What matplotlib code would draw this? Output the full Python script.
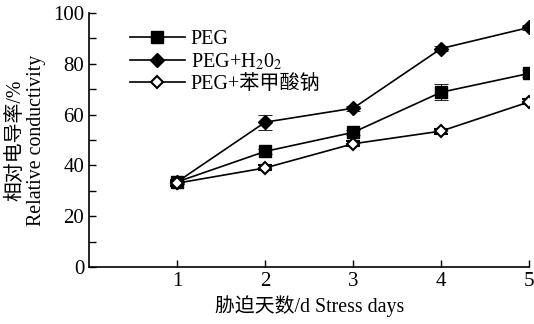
import matplotlib.pyplot as plt
from matplotlib.ticker import MultipleLocator

plt.rcParams['font.family'] = ['Liberation Serif', 'Noto Sans CJK SC']
plt.rcParams['mathtext.fontset'] = 'stix'

days = [1, 2, 3, 4, 5]
peg = [33.5, 45.5, 53.0, 68.8, 76.2]
peg_err = [1.0, 1.0, 1.0, 3.2, 1.5]
peg_h2o2 = [33.5, 57.0, 62.5, 86.0, 94.3]
peg_h2o2_err = [1.0, 3.0, 1.0, 1.0, 1.0]
peg_benz = [33.0, 39.0, 48.5, 53.5, 65.0]
peg_benz_err = [1.0, 1.0, 1.0, 1.0, 1.0]

labels = ["PEG", r"PEG+H$_2$0$_2$", "PEG+苯甲酸钠"]

fig = plt.figure(figsize=(5.34, 3.24), dpi=100)
ax = fig.add_axes([0.167, 0.176, 0.824, 0.784])

ax.errorbar(days, peg, yerr=peg_err, color="black", marker="s", ms=8,
            lw=1.2, capsize=5, elinewidth=0.6, capthick=0.6, label=labels[0])
ax.errorbar(days, peg_h2o2, yerr=peg_h2o2_err, color="black", marker="D", ms=7,
            lw=1.2, capsize=5, elinewidth=0.6, capthick=0.6, label=labels[1])
ax.errorbar(days, peg_benz, yerr=peg_benz_err, color="black", marker="D", ms=6,
            mfc="white", mew=1.5, lw=1.2, capsize=5, elinewidth=0.6,
            capthick=0.6, label=labels[2])

ax.set_xlim(0, 5)
ax.set_ylim(0, 100)
ax.set_xticks(days)
ax.yaxis.set_major_locator(MultipleLocator(20))
ax.yaxis.set_minor_locator(MultipleLocator(10))
ax.tick_params(direction="in", labelsize=15, length=5, width=1)
ax.tick_params(which="minor", direction="in", length=5, width=1)
for s in ["top", "right"]:
    ax.spines[s].set_visible(False)
for s in ["left", "bottom"]:
    ax.spines[s].set_linewidth(1.2)

ax.set_xlabel("胁迫天数/d Stress days", fontsize=14.3, labelpad=3)
ax.set_ylabel("相对电导率/%\nRelative conductivity", fontsize=14.3, labelpad=5,
              linespacing=1.1)

handles, lbls = ax.get_legend_handles_labels()
handles = [h[0] for h in handles]
ax.legend(handles, lbls, loc="upper left", bbox_to_anchor=(0.075, 0.965),
          frameon=False, fontsize=14.5, handlelength=2.7, handletextpad=0.3,
          labelspacing=0.12, borderaxespad=0)

fig.savefig("out.png", dpi=100)
